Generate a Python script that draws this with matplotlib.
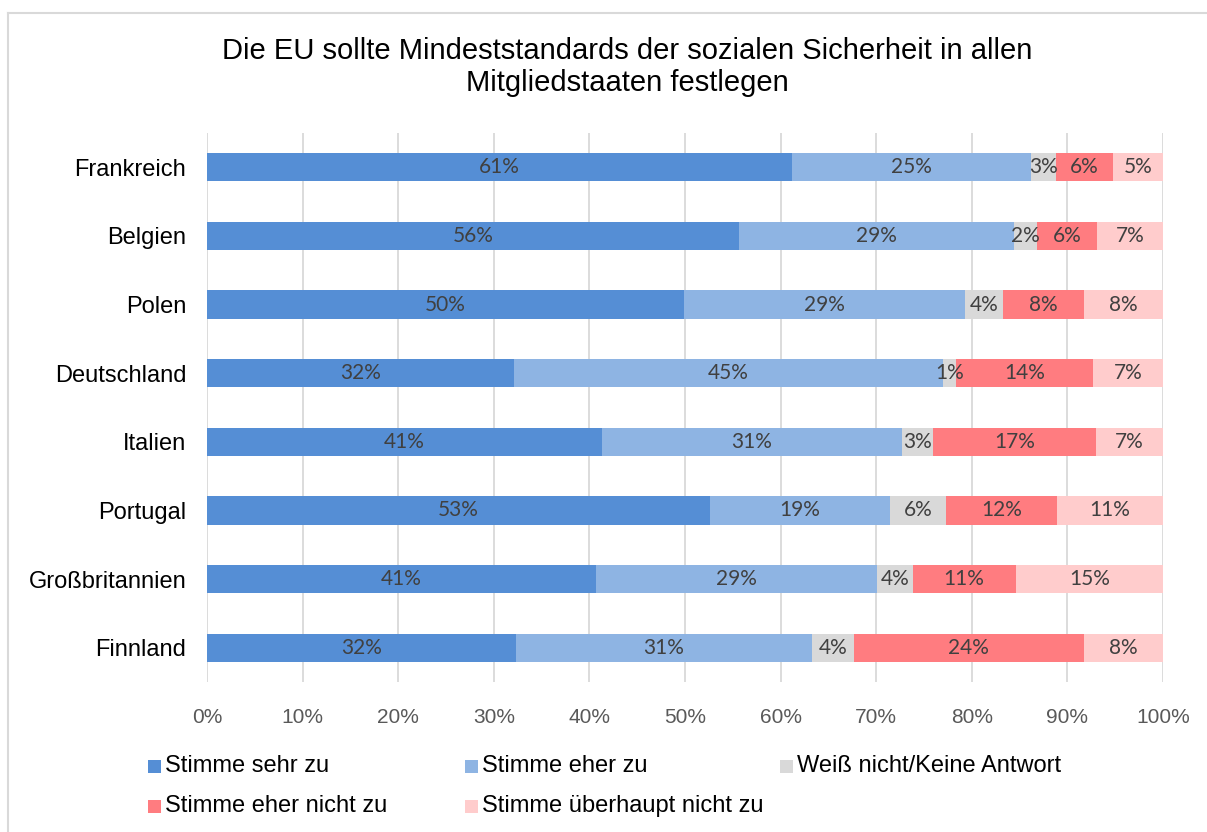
import matplotlib
matplotlib.use("Agg")
import matplotlib.pyplot as plt
from matplotlib.patches import Rectangle
from matplotlib.lines import Line2D
import numpy as np

# ---- data ----
countries = ["Frankreich", "Belgien", "Polen", "Deutschland", "Italien",
             "Portugal", "Großbritannien", "Finnland"]
series_names = ["Stimme sehr zu", "Stimme eher zu", "Weiß nicht/Keine Antwort",
                "Stimme eher nicht zu", "Stimme überhaupt nicht zu"]
sehr_zu = [61.2, 55.6, 49.9, 32.1, 41.3, 52.6, 40.7, 32.3]
eher_zu = [25.0, 28.8, 29.4, 44.9, 31.4, 18.8, 29.4, 31.0]
weiss_nicht = [2.6, 2.4, 4.0, 1.3, 3.2, 5.9, 3.7, 4.4]
eher_nicht = [6.0, 6.3, 8.4, 14.4, 17.1, 11.6, 10.8, 24.0]
ueberhaupt_nicht = [5.2, 6.9, 8.3, 7.3, 7.0, 11.1, 15.4, 8.3]
series_colors = ["#558ED5", "#8EB4E3", "#D9D9D9", "#FF7C80", "#FFCCCC"]
xtick_values = [0, 10, 20, 30, 40, 50, 60, 70, 80, 90, 100]
title = "Die EU sollte Mindeststandards der sozialen Sicherheit in allen\nMitgliedstaaten festlegen"

W, H = 1207, 832
fig = plt.figure(figsize=(W / 100, H / 100), dpi=100)
fig.patch.set_facecolor("white")

arial = ["Liberation Sans", "DejaVu Sans"]

# plot area in pixel terms
left, right, top, bottom = 207, 1163, 133, 682
ax = fig.add_axes([left / W, 1 - bottom / H, (right - left) / W, (bottom - top) / H])

raw_series = [sehr_zu, eher_zu, weiss_nicht, eher_nicht, ueberhaupt_nicht]
data = np.array(raw_series)
data = data / data.sum(axis=0) * 100.0
ypos = np.arange(len(countries))

label_font = ["Lato", "DejaVu Sans"]
cum = np.zeros(len(countries))
for i, (vals, col) in enumerate(zip(data, series_colors)):
    ax.barh(ypos, vals, left=cum, height=0.41, color=col, edgecolor="none", zorder=3)
    raw = raw_series[i]
    for j, (v, c) in enumerate(zip(vals, cum)):
        ax.text(c + v / 2, ypos[j], f"{round(raw[j])}%", ha="center", va="center",
                fontsize=15, color="#404040", family=label_font, zorder=4)
    cum = cum + vals

ax.set_xlim(0, 100)
ax.set_ylim(len(countries) - 0.5, -0.5)
ax.set_xticks(xtick_values)
ax.set_xticklabels([f"{v}%" for v in xtick_values], fontsize=15, color="#595959",
                   family=arial)
ax.set_yticks(ypos)
ax.set_yticklabels(countries, fontsize=17, color="black", family=arial)
ax.tick_params(axis="x", length=0, pad=19)
ax.tick_params(axis="y", length=0, pad=15)
for s in ax.spines.values():
    s.set_visible(False)
ax.xaxis.grid(True, color="#D9D9D9", linewidth=1.3, zorder=0)
ax.set_axisbelow(True)

# title
fig.text(627 / W, 1 - 67 / H, title, ha="center", va="center", fontsize=21,
         family=arial, linespacing=1.22, color="black")

# legend (manual, Excel-like grid)
legend_pos = [(148, 766), (465, 766), (780, 766), (148, 806), (465, 806)]
for name, col, (lx, ly) in zip(series_names, series_colors, legend_pos):
    fig.add_artist(Rectangle((lx / W, 1 - (ly + 6.5) / H), 13 / W, 13 / H,
                             transform=fig.transFigure, facecolor=col, edgecolor="none"))
    fig.text((lx + 17) / W, 1 - ly / H, name, ha="left", va="center", fontsize=17,
             family=arial, color="black")

# chart-area border (cropped at right and bottom)
fig.add_artist(Line2D([8 / W, 8 / W], [1 - 13 / H, -0.05], transform=fig.transFigure,
                      color="#D9D9D9", linewidth=1.5))
fig.add_artist(Line2D([8 / W, 1.05], [1 - 13 / H, 1 - 13 / H], transform=fig.transFigure,
                      color="#D9D9D9", linewidth=1.5))

fig.savefig("out.png", dpi=100)
